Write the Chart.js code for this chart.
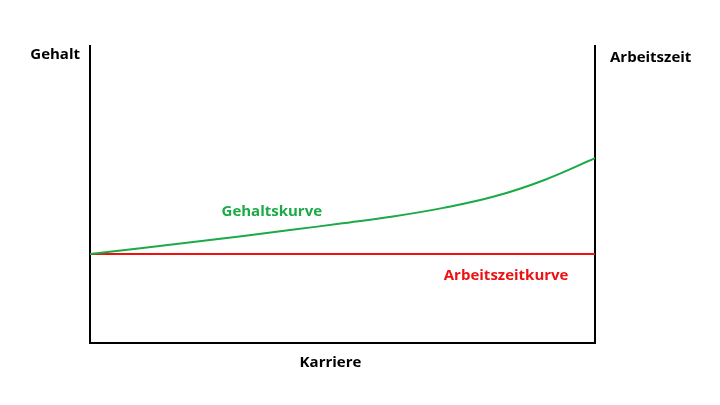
<!DOCTYPE html>
<html>
<head>
<meta charset="utf-8">
<script src="https://cdn.jsdelivr.net/npm/chart.js@4/dist/chart.umd.min.js"></script>
<style>
  html, body { margin: 0; padding: 0; background: #fff; }
  #wrap { width: 720px; height: 405px; }
</style>
</head>
<body>
<div id="wrap"><canvas id="chart"></canvas></div>
<script>
// Karriere (x) and the two curves (0..100 scale)
const karriere = [0, 20, 40, 50, 60, 70, 80, 90, 100];
const gehalt = [30, 33.9, 38.1, 40.3, 42.6, 45.5, 49.3, 54.9, 62.2];
const arbeitszeit = [30, 30, 30, 30, 30, 30, 30, 30, 30];

const axisTitles = { left: 'Gehalt', right: 'Arbeitszeit', bottom: 'Karriere' };
const curveLabels = [
    { text: 'Gehaltskurve', x: 36, y: 44.1, color: '#1aaa48' },
    { text: 'Arbeitszeitkurve', x: 82.4, y: 22.6, color: '#ee1111' }
];

const font = 'bold 15px "Open Sans", sans-serif';

// Draw axis titles and curve names
const textPlugin = {
    id: 'texts',
    afterDraw(chart) {
        const { ctx, chartArea: a, scales: { x, y } } = chart;
        ctx.save();
        ctx.font = font;
        ctx.textBaseline = 'middle';
        ctx.fillStyle = '#000';
        ctx.textAlign = 'right';
        ctx.fillText(axisTitles.left, a.left - 10, a.top + 9);
        ctx.textAlign = 'left';
        ctx.fillText(axisTitles.right, a.right + 15, a.top + 12);
        ctx.textAlign = 'center';
        ctx.fillText(axisTitles.bottom, (a.left + a.right) / 2 - 12, a.bottom + 20);
        curveLabels.forEach(l => {
            ctx.fillStyle = l.color;
            ctx.fillText(l.text, x.getPixelForValue(l.x), y.getPixelForValue(l.y));
        });
        ctx.restore();
    }
};

const hiddenAxis = (extra) => Object.assign({
    min: 0, max: 100,
    ticks: { display: false },
    grid: { display: false, drawTicks: false, tickLength: 0 },
    border: { display: true, color: '#000', width: 2 }
}, extra);

new Chart(document.getElementById('chart'), {
    type: 'line',
    data: {
        datasets: [{
            label: 'Gehaltskurve',
            data: karriere.map((k, i) => ({ x: k, y: gehalt[i] })),
            borderColor: '#1aaa48',
            borderWidth: 2,
            pointRadius: 0,
            tension: 0.4
        }, {
            label: 'Arbeitszeitkurve',
            data: karriere.map((k, i) => ({ x: k, y: arbeitszeit[i] })),
            borderColor: '#ee1111',
            borderWidth: 2,
            pointRadius: 0
        }]
    },
    options: {
        responsive: true,
        maintainAspectRatio: false,
        animation: false,
        layout: { padding: { left: 90, right: 125, top: 46, bottom: 62 } },
        plugins: { legend: { display: false }, tooltip: { enabled: false } },
        scales: {
            x: hiddenAxis({ type: 'linear' }),
            y: hiddenAxis({ position: 'left' }),
            y2: hiddenAxis({ position: 'right' })
        }
    },
    plugins: [textPlugin]
});
</script>
</body>
</html>
